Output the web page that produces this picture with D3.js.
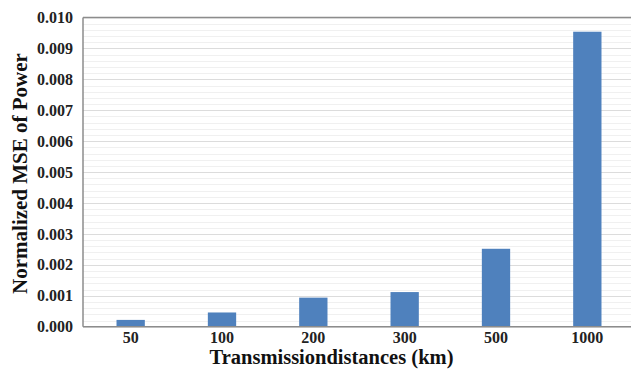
<!DOCTYPE html>
<html><head><meta charset="utf-8">
<script src="https://cdn.jsdelivr.net/npm/d3@7"></script>
<style>body{margin:0;background:#fff}svg{display:block}</style>
</head><body>
<script>
const categories = ["50","100","200","300","500","1000"];
const values = [0.00022, 0.00046, 0.00094, 0.00112, 0.00252, 0.00954];
const yTicks = [0,0.001,0.002,0.003,0.004,0.005,0.006,0.007,0.008,0.009,0.010];
const minorTicks = d3.range(0, 51).map(i => i * 0.0002);
const xTitle = "Transmissiondistances (km)";
const yTitle = "Normalized MSE of Power";

(function(){
const W = 631, H = 369;
const pLeft = 83, pTop = 17.5, pBottom = 326.7, pRight = 631;
const svg = d3.select("body").append("svg").attr("width", W).attr("height", H);
const font = "'Liberation Serif','Times New Roman',serif";

const x = d3.scaleBand().domain(categories).range([85, 633]).paddingInner(0.69).paddingOuter(0.345);
const y = d3.scaleLinear().domain([0, 0.010]).range([pBottom, pTop]);

// minor grid
svg.append("g").selectAll("line").data(minorTicks).join("line")
  .attr("x1", pLeft).attr("x2", pRight)
  .attr("y1", d => Math.round(y(d)) + 0.5).attr("y2", d => Math.round(y(d)) + 0.5)
  .attr("stroke", "#f0f0f0").attr("stroke-width", 1);
// major grid
svg.append("g").selectAll("line").data(yTicks.slice(1, -1)).join("line")
  .attr("x1", pLeft).attr("x2", pRight)
  .attr("y1", d => Math.round(y(d)) + 0.5).attr("y2", d => Math.round(y(d)) + 0.5)
  .attr("stroke", "#dcdcdc").attr("stroke-width", 1.2);

// bars
svg.append("g").selectAll("rect").data(values).join("rect")
  .attr("x", (d, i) => x(categories[i]))
  .attr("width", x.bandwidth())
  .attr("y", d => y(d))
  .attr("height", d => y(0) - y(d))
  .attr("fill", "#4f81bd");

// frame: top, left, bottom
svg.append("line").attr("x1", pLeft).attr("x2", pRight).attr("y1", pTop).attr("y2", pTop)
  .attr("stroke", "#8c8c8c").attr("stroke-width", 1.5);
svg.append("line").attr("x1", pLeft).attr("x2", pLeft).attr("y1", pTop).attr("y2", pBottom)
  .attr("stroke", "#8c8c8c").attr("stroke-width", 1.5);
svg.append("line").attr("x1", pLeft).attr("x2", pRight).attr("y1", pBottom).attr("y2", pBottom)
  .attr("stroke", "#8c8c8c").attr("stroke-width", 1.5);

// y axis labels
const yAxis = svg.append("g").attr("transform", `translate(${pLeft},0)`)
  .call(d3.axisLeft(y).tickValues(yTicks).tickFormat(d3.format(".3f")).tickSize(0).tickPadding(10));
yAxis.attr("font-family", font);
yAxis.select(".domain").remove();
yAxis.selectAll("text").attr("font-family", font).attr("font-weight", "bold")
  .attr("font-size", 16).attr("fill", "#222");

// x axis labels
const xAxis = svg.append("g").attr("transform", `translate(0,${pBottom})`)
  .call(d3.axisBottom(x).tickSize(0).tickPadding(5));
xAxis.attr("font-family", font);
xAxis.select(".domain").remove();
xAxis.selectAll("text").attr("font-family", font).attr("font-weight", "bold")
  .attr("font-size", 16).attr("fill", "#222");

// titles
svg.append("text").attr("x", 331.5).attr("y", 363.5).attr("text-anchor", "middle")
  .attr("font-family", font).attr("font-weight", "bold").attr("font-size", 20.5).attr("fill", "#111")
  .text(xTitle);
svg.append("text").attr("transform", "translate(26.5,173.5) rotate(-90)").attr("text-anchor", "middle")
  .attr("font-family", font).attr("font-weight", "bold").attr("font-size", 21).attr("fill", "#111")
  .text(yTitle);
})();
</script>
</body></html>
